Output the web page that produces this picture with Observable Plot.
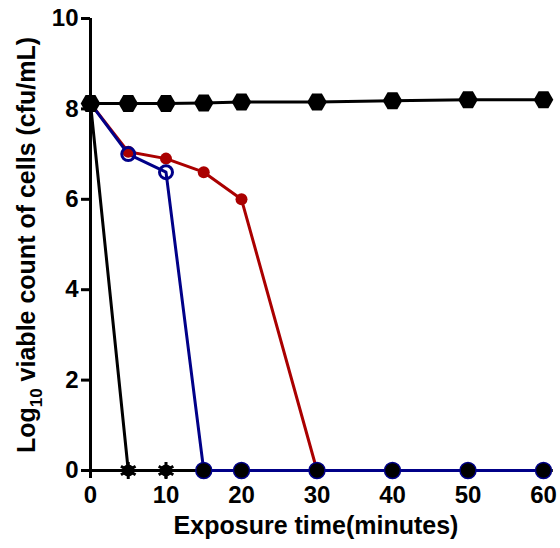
<!DOCTYPE html>
<html><head><meta charset="utf-8">
<script src="https://cdn.jsdelivr.net/npm/d3@7"></script>
<script src="https://cdn.jsdelivr.net/npm/@observablehq/plot@0.6"></script>
<style>body{margin:0;background:#fff}</style>
</head><body><div id="chart"></div>
<script>
const times = [0, 5, 10, 15, 20, 30, 40, 50, 60];
const control = [8.12, 8.12, 8.12, 8.13, 8.15, 8.15, 8.18, 8.2, 8.2];
const treatRed = [8.12, 7.05, 6.9, 6.6, 6.0, 0, 0, 0, 0];
const treatBlue = [8.12, 7.0, 6.6, 0, 0, 0, 0, 0, 0];
const treatBlack = [8.12, 0, 0, 0, 0, 0, 0, 0, 0];
const xTicks = [0, 10, 20, 30, 40, 50, 60];
const yTicks = [0, 2, 4, 6, 8, 10];

const mk = arr => times.map((t, i) => ({t, v: arr[i]}));
const C = mk(control), R = mk(treatRed), B = mk(treatBlue), K = mk(treatBlack);
const FONT = "'Liberation Sans', Arial, sans-serif";

const chart = Plot.plot({
  width: 560, height: 548,
  marginLeft: 90, marginRight: 17, marginTop: 18, marginBottom: 78,
  style: {fontFamily: FONT, background: "#fff"},
  x: {domain: [0, 60]},
  y: {domain: [0, 10]},
  marks: [
    Plot.axisX({ticks: xTicks, tickSize: 8, tickPadding: 7, strokeWidth: 3, fontSize: 24, fontWeight: "bold", label: null, color: "#000"}),
    Plot.axisY({ticks: yTicks, tickSize: 9, tickPadding: 3, strokeWidth: 3, fontSize: 24, fontWeight: "bold", label: null, color: "#000"}),
    Plot.ruleY([0], {stroke: "#000", strokeWidth: 3, x1: 0, x2: 61.3, clip: false}),
    Plot.ruleX([0], {stroke: "#000", strokeWidth: 3}),
    Plot.line(C, {x: "t", y: "v", stroke: "#000", strokeWidth: 3}),
    Plot.line(K, {x: "t", y: "v", stroke: "#000", strokeWidth: 3}),
    Plot.line(R, {x: "t", y: "v", stroke: "#aa0000", strokeWidth: 3}),
    Plot.line(B, {x: "t", y: "v", stroke: "#000088", strokeWidth: 3}),
    Plot.dot(K.filter(d => d.t > 0 && d.t <= 10), {x: "t", y: "v", r: 6, fill: "#000"}),
    Plot.dot(K.filter(d => d.t > 0 && d.t <= 10), {x: "t", y: "v", r: 8, symbol: "asterisk", stroke: "#000", strokeWidth: 3}),
    Plot.dot(R.filter(d => d.v > 0), {x: "t", y: "v", r: 6, fill: "#aa0000"}),
    Plot.dot(B.filter(d => d.v > 0 && d.t > 0), {x: "t", y: "v", r: 6.5, fill: "none", stroke: "#000088", strokeWidth: 3}),
    Plot.dot(B.filter(d => d.v === 0), {x: "t", y: "v", r: 8, fill: "#000", stroke: "#000088", strokeWidth: 1.5}),
    Plot.dot(C, {x: "t", y: "v", r: 8.5, symbol: "hexagon", rotate: 30, fill: "#000"})
  ]
});
document.getElementById("chart").appendChild(chart);

const svg = d3.select(chart);
const yl = svg.append("text")
  .attr("transform", "translate(35,245) rotate(-90)")
  .attr("text-anchor", "middle")
  .attr("font-family", FONT)
  .attr("font-weight", "bold").attr("font-size", 25).attr("fill", "#000");
yl.append("tspan").text("Log");
yl.append("tspan").attr("font-size", 17).attr("dy", 7).text("10");
yl.append("tspan").attr("dy", -7).text(" viable count of cells (cfu/mL)");
svg.append("text")
  .attr("x", 316).attr("y", 534)
  .attr("text-anchor", "middle")
  .attr("font-family", FONT)
  .attr("font-weight", "bold").attr("font-size", 25).attr("fill", "#000")
  .text("Exposure time(minutes)");
</script>
</body></html>
